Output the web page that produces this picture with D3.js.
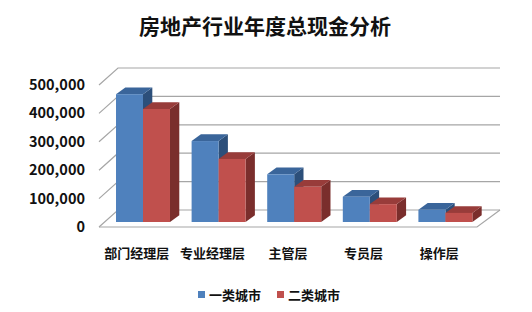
<!DOCTYPE html>
<html>
<head>
<meta charset="utf-8">
<script src="https://cdn.jsdelivr.net/npm/d3@7"></script>
<style>
  html, body { margin: 0; padding: 0; background: #fff; }
  svg text { font-family: "Noto Sans CJK SC", "Noto Sans", sans-serif; font-weight: 700; fill: #111; }
</style>
</head>
<body>
<div id="chart"></div>
<script>
// Data
const categories = ['部门经理层', '专业经理层', '主管层', '专员层', '操作层'];
const seriesNames = ['一类城市', '二类城市'];
const city1 = [450000, 285000, 168000, 89000, 43000];
const city2 = [398000, 222000, 124000, 63000, 32000];
const yTicks = [0, 100000, 200000, 300000, 400000, 500000];

const width = 532, height = 312;

// Colors: front / top / side
const colors = [
  { front: '#4f81bd', top: '#3a659a', side: '#2c4f7a' },
  { front: '#c0504d', top: '#983c3a', side: '#7a2e2c' },
];

const svg = d3.select('#chart').append('svg')
  .attr('width', width)
  .attr('height', height);

// Front plane scales
const x = d3.scaleBand()
  .domain(categories)
  .range([99, 477])
  .paddingInner(0.286)
  .paddingOuter(0.143);

const xs = d3.scaleBand()
  .domain(seriesNames)
  .range([0, x.bandwidth()]);

const y = d3.scaleLinear()
  .domain([0, 500000])
  .range([227, 85]);

// Depth offsets
const floorDepth = { dx: 19, dy: -17 };
const barFront = { dx: 6.2, dy: -5 };
const barDepth = { dx: 9.3, dy: -6.7 };

// Grid lines (left wall diagonal + back wall)
const grid = svg.append('g');
yTicks.forEach(t => {
  const yf = y(t), yb = y(t) + floorDepth.dy;
  grid.append('path')
    .attr('d', `M99,${yf} L118,${yb} L500,${yb}`)
    .attr('fill', 'none')
    .attr('stroke', '#a6a6a6')
    .attr('stroke-width', 1.2);
});

// Floor outline
grid.append('path')
  .attr('d', `M99,${y(0)} L477,${y(0)} L500,${y(0) + floorDepth.dy}`)
  .attr('fill', 'none')
  .attr('stroke', '#a6a6a6')
  .attr('stroke-width', 1.2);

// Bars
const bars = svg.append('g');
const seriesData = [city1, city2];
categories.forEach((cat, i) => {
  seriesData.forEach((vals, s) => {
    const c = colors[s];
    const x0 = x(cat) + xs(seriesNames[s]) + barFront.dx;
    const x1 = x0 + xs.bandwidth();
    const yb = y(0) + barFront.dy;
    const yt = y(vals[i]) + barFront.dy;
    const dx = barDepth.dx, dy = barDepth.dy;
    // side
    bars.append('path')
      .attr('d', `M${x1},${yt} L${x1 + dx},${yt + dy} L${x1 + dx},${yb + dy} L${x1},${yb} Z`)
      .attr('fill', c.side);
    // top
    bars.append('path')
      .attr('d', `M${x0},${yt} L${x0 + dx},${yt + dy} L${x1 + dx},${yt + dy} L${x1},${yt} Z`)
      .attr('fill', c.top);
    // front
    bars.append('rect')
      .attr('x', x0).attr('y', yt)
      .attr('width', x1 - x0).attr('height', yb - yt)
      .attr('fill', c.front);
  });
});

// Y axis labels
const fmt = d3.format(',');
svg.append('g').selectAll('text')
  .data(yTicks)
  .join('text')
  .attr('x', 85)
  .attr('y', d => y(d))
  .attr('dy', '0.35em')
  .attr('text-anchor', 'end')
  .attr('font-size', '14.5px')
  .text(d => fmt(d));

// Category labels
svg.append('g').selectAll('text')
  .data(categories)
  .join('text')
  .attr('x', d => x(d) + x.bandwidth() / 2)
  .attr('y', 253)
  .attr('dy', '0.35em')
  .attr('text-anchor', 'middle')
  .attr('font-size', '13px')
  .text(d => d);

// Title
svg.append('text')
  .attr('x', 265)
  .attr('y', 27)
  .attr('dy', '0.35em')
  .attr('text-anchor', 'middle')
  .attr('font-size', '21px')
  .text('房地产行业年度总现金分析');

// Legend
const legendX = [198, 277];
seriesNames.forEach((name, s) => {
  svg.append('rect')
    .attr('x', legendX[s]).attr('y', 291)
    .attr('width', 7).attr('height', 7)
    .attr('fill', colors[s].front);
  svg.append('text')
    .attr('x', legendX[s] + 11)
    .attr('y', 295)
    .attr('dy', '0.35em')
    .attr('font-size', '13px')
    .text(name);
});
</script>
</body>
</html>
